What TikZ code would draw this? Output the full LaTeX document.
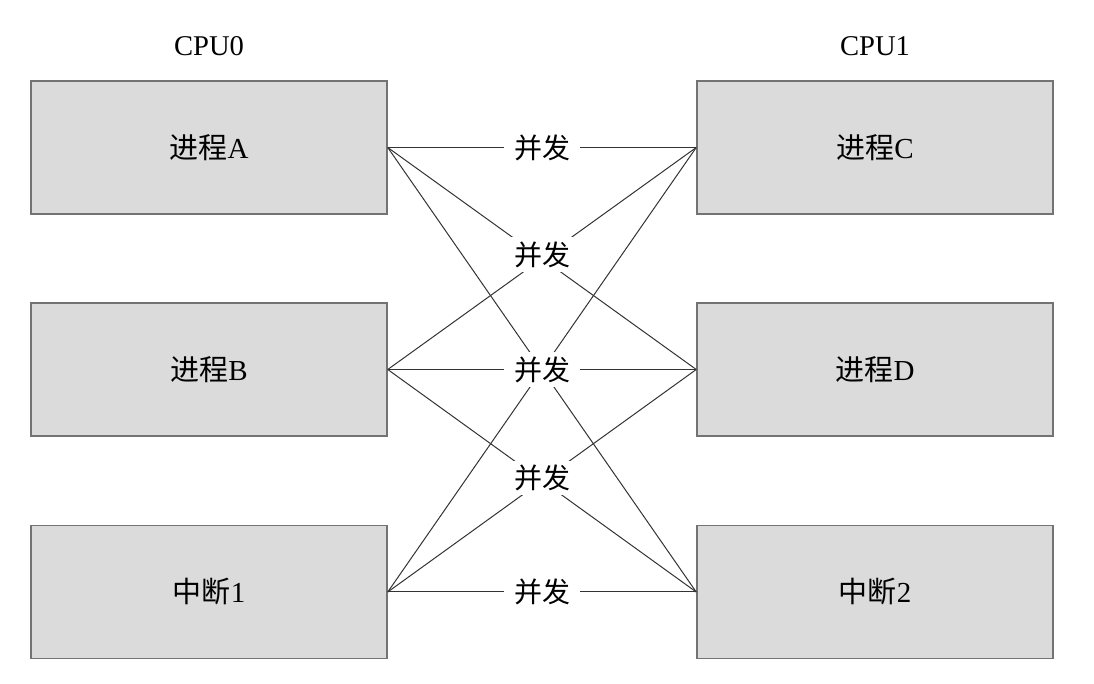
\documentclass[tikz,border=0pt]{standalone}
\usepackage{fontspec}
\setmainfont{Liberation Serif}
\newfontfamily\cjk{Noto Sans CJK SC}
\usetikzlibrary{calc}
\tikzset{
	proc/.style={draw=black!55, line width=0.75pt, fill=black!14, minimum width=178pt, minimum height=66.5pt, inner sep=0pt, font=\fontsize{14.5}{17}\selectfont},
	link/.style={black!80, line width=0.5pt},
	lbl/.style={fill=white, inner xsep=5pt, inner ysep=2pt, font=\cjk\fontsize{14}{17}\selectfont},
	cpu/.style={font=\fontsize{14.3}{17}\selectfont}
}

\begin{document}
\begin{tikzpicture}[x=0.5pt, y=-0.5pt]
			\useasboundingbox (0,0) rectangle (1094,684);
			\node[cpu] (cpu0) at (209,46) {CPU0};
			\node[cpu] (cpu1) at (875,46) {CPU1};
			\node[proc] (A) at (209,147.5) {{\cjk 进程}A};
			\node[proc] (B) at (209,369.5) {{\cjk 进程}B};
			\node[proc] (I1) at (209,592) {{\cjk 中断}1};
			\node[proc] (C) at (875,147.5) {{\cjk 进程}C};
			\node[proc] (D) at (875,369.5) {{\cjk 进程}D};
			\node[proc] (I2) at (875,592) {{\cjk 中断}2};
			\foreach \l in {A,B,I1}
				\foreach \r in {C,D,I2}
					\draw[link] (\l.east) -- (\r.west);
			\node[lbl] at ($(A.east)!0.5!(C.west)$) {并发};
			\node[lbl] at ($(A.east)!0.5!(D.west)+(0,-4)$) {并发};
			\node[lbl] at ($(B.east)!0.5!(D.west)$) {并发};
			\node[lbl] at ($(B.east)!0.5!(I2.west)+(0,-3)$) {并发};
			\node[lbl] at ($(I1.east)!0.5!(I2.west)$) {并发};
		\end{tikzpicture}
\end{document}
